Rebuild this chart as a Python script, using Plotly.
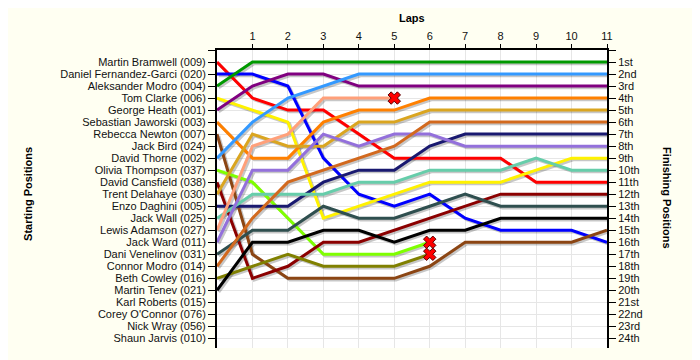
import plotly.graph_objects as go

laps = list(range(0, 12))

drivers = [
    "Martin Bramwell (009)", "Daniel Fernandez-Garci (020)", "Aleksander Modro (004)",
    "Tom Clarke (006)", "George Heath (001)", "Sebastian Jaworski (003)",
    "Rebecca Newton (007)", "Jack Bird (024)", "David Thorne (002)",
    "Olivia Thompson (037)", "David Cansfield (038)", "Trent Delahaye (030)",
    "Enzo Daghini (005)", "Jack Wall (025)", "Lewis Adamson (027)",
    "Jack Ward (011)", "Dani Venelinov (031)", "Connor Modro (014)",
    "Beth Cowley (016)", "Martin Tenev (021)", "Karl Roberts (015)",
    "Corey O'Connor (076)", "Nick Wray (056)", "Shaun Jarvis (010)",
]

finish_labels = ["1st", "2nd", "3rd", "4th", "5th", "6th", "7th", "8th", "9th", "10th",
                 "11th", "12th", "13th", "14th", "15th", "16th", "17th", "18th", "19th",
                 "20th", "21st", "22nd", "23rd", "24th"]

# positions per lap (lap 0 = start)
martin_bramwell = [1, 4, 5, 5, 7, 9, 9, 9, 9, 11, 11, 11]
daniel_fernandez = [2, 2, 3, 9, 12, 13, 12, 14, 15, 15, 15, 16]
aleksander_modro = [3, 1, 1, 1, 1, 1, 1, 1, 1, 1, 1, 1]
tom_clarke = [4, 5, 6, 14, 13, 12, 11, 11, 11, 10, 9, 9]
george_heath = [5, 3, 2, 2, 3, 3, 3, 3, 3, 3, 3, 3]
sebastian_jaworski = [6, 9, 9, 6, 5, 5, 4, 4, 4, 4, 4, 4]
rebecca_newton = [7, 17, 19, 19, 19, 19, 18, 16, 16, 16, 16, 15]
david_thorne = [9, 6, 4, 3, 2, 2, 2, 2, 2, 2, 2, 2]
olivia_thompson = [10, 11, 14, 17, 17, 17, 16]
david_cansfield = [11, 19, 18, 16, 16, 15, 14, 13, 12, 12, 12, 12]
trent_delahaye = [12, 7, 8, 8, 6, 6, 5, 5, 5, 5, 5, 5]
enzo_daghini = [13, 13, 13, 11, 10, 10, 8, 7, 7, 7, 7, 7]
jack_wall = [14, 12, 12, 12, 11, 11, 10, 10, 10, 9, 10, 10]
lewis_adamson = [15, 8, 7, 4, 4, 4]
jack_ward = [16, 10, 10, 7, 8, 7, 7, 8, 8, 8, 8, 8]
dani_venelinov = [17, 15, 15, 13, 14, 14, 13, 12, 13, 13, 13, 13]
connor_modro = [18, 14, 11, 10, 9, 8, 6, 6, 6, 6, 6, 6]
beth_cowley = [19, 18, 17, 18, 18, 18, 17]
martin_tenev = [20, 16, 16, 15, 15, 16, 15, 15, 14, 14, 14, 14]

series = [
    (martin_bramwell, "#FF0000"),
    (daniel_fernandez, "#0000FF"),
    (aleksander_modro, "#009900"),
    (tom_clarke, "#FFF200"),
    (george_heath, "#800080"),
    (sebastian_jaworski, "#FF8000"),
    (rebecca_newton, "#8B4513"),
    (david_thorne, "#3399FF"),
    (olivia_thompson, "#7FFF00"),
    (david_cansfield, "#8B0000"),
    (trent_delahaye, "#DAA520"),
    (enzo_daghini, "#191970"),
    (jack_wall, "#66CDAA"),
    (lewis_adamson, "#FFA07A"),
    (jack_ward, "#9370DB"),
    (dani_venelinov, "#2F4F4F"),
    (connor_modro, "#D2691E"),
    (beth_cowley, "#808000"),
    (martin_tenev, "#000000"),
]

retired = [lewis_adamson, olivia_thompson, beth_cowley]

fig = go.Figure()

# shadows
for vals, col in series:
    fig.add_trace(go.Scatter(
        x=[l + 0.05 for l in laps[:len(vals)]], y=[v + 0.14 for v in vals],
        mode="lines", line=dict(color="rgba(0,0,0,0.22)", width=3),
        hoverinfo="skip", showlegend=False))

for vals, col in series:
    fig.add_trace(go.Scatter(
        x=laps[:len(vals)], y=vals, mode="lines",
        line=dict(color=col, width=3), showlegend=False))

fig.add_trace(go.Scatter(
    x=[laps[len(v) - 1] for v in retired], y=[v[-1] for v in retired],
    mode="markers",
    marker=dict(symbol="x", size=11, color="#FF0000", line=dict(color="#550000", width=1)),
    showlegend=False))

# dummy trace for right axis
fig.add_trace(go.Scatter(x=[0], y=[1], yaxis="y2", mode="markers",
                         marker=dict(opacity=0), showlegend=False, hoverinfo="skip"))

font = dict(family="Liberation Sans, Arial, sans-serif", size=11, color="#111111")
tfont = dict(family="Liberation Sans, Arial", size=11, color="#000")

ytickvals = [0] + list(range(1, 25))

fig.update_layout(
    width=692, height=352,
    margin=dict(l=209, r=93, t=42, b=12, autoexpand=False),
    paper_bgcolor="#FFFFF2", plot_bgcolor="#FFFFFF",
    font=font,
    xaxis=dict(range=[0, 11], side="top", tickvals=list(range(1, 12)),
               showgrid=True, gridcolor="#E6E6E6", showline=True, linecolor="#000000",
               linewidth=1.5, ticks="outside", ticklen=4, tickcolor="#000000",
               zeroline=False, tickfont=font, automargin=False),
    yaxis=dict(range=[24.8, 0], tickvals=ytickvals, ticktext=[""] + drivers,
               showgrid=True, gridcolor="#E6E6E6", showline=True, linecolor="#000000",
               linewidth=2, ticks="outside", ticklen=7, tickcolor="#000000",
               zeroline=False, tickfont=font, automargin=False),
    yaxis2=dict(range=[24.8, 0], tickvals=ytickvals, ticktext=[""] + finish_labels,
                overlaying="y", side="right", showgrid=False, showline=True,
                linecolor="#000000", linewidth=2, ticks="outside", ticklen=7,
                tickcolor="#000000", zeroline=False, tickfont=font, automargin=False),
    annotations=[
        dict(text="<b>Laps</b>", xref="paper", yref="paper", x=0.5, y=1.107,
             xanchor="center", yanchor="middle", showarrow=False, font=tfont),
        dict(text="<b>Starting Positions</b>", xref="paper", yref="paper", x=-0.4846, y=0.517,
             xanchor="center", yanchor="middle",
             textangle=-90, showarrow=False, font=tfont),
        dict(text="<b>Finishing Positions</b>", xref="paper", yref="paper", x=1.1538, y=0.503,
             xanchor="center", yanchor="middle",
             textangle=90, showarrow=False, font=tfont),
    ],
)

fig.write_html("out.html")
